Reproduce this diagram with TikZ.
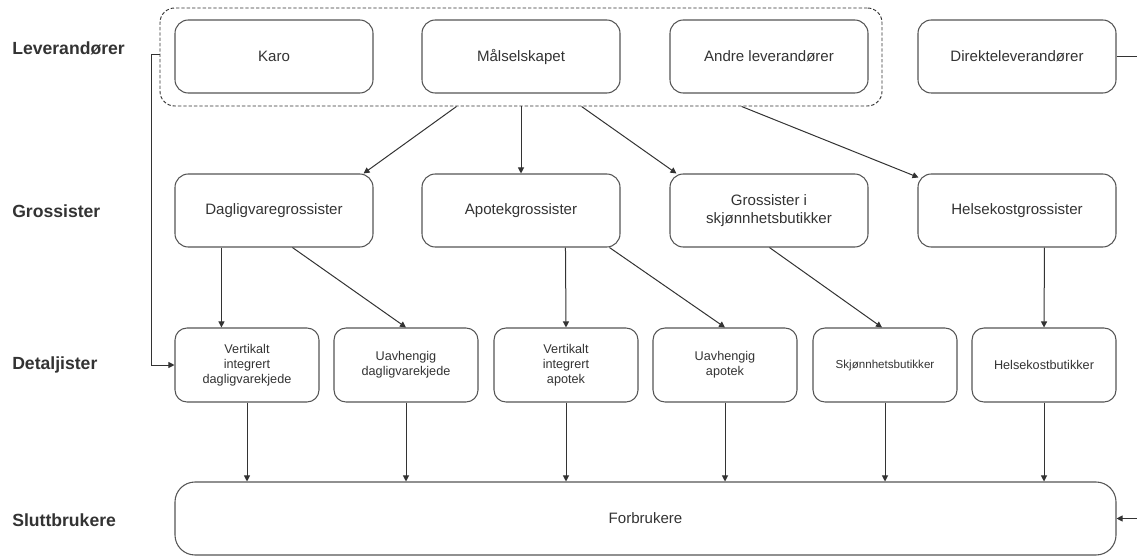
\documentclass[tikz,border=0pt]{standalone}
\usepackage{fontspec}
\setmainfont{Liberation Sans}
\usetikzlibrary{arrows.meta,calc}
\definecolor{txt}{HTML}{333333}
\definecolor{bord}{HTML}{555555}
\begin{document}
\begin{tikzpicture}[x=0.75pt,y=-0.75pt,
  box/.style={draw=bord, line width=0.8pt, rounded corners=10pt, align=center, text=txt, inner sep=0pt, font=\fontsize{11.3}{13.5}\selectfont},
  bigbox/.style={box, minimum width=148.5pt, minimum height=54.75pt},
  smallbox/.style={box, minimum width=108pt, minimum height=55.5pt, rounded corners=9pt, font=\fontsize{9.5}{11.25}\selectfont},
  lbl/.style={anchor=west, inner sep=0pt, font=\fontsize{13.2}{15}\selectfont\bfseries, text=txt},
  arr/.style={-{Triangle[width=4.5pt,length=4.5pt]}, draw=txt, line width=0.75pt}]
\useasboundingbox (0,0) rectangle (1137,556);

% row labels
\node[lbl] (l1) at (12,48) {Leverandører};
\node[lbl] (l2) at (12,211) {Grossister};
\node[lbl] (l3) at (12,365) {Detaljister};
\node[lbl] (l4) at (12,520) {Sluttbrukere};

% dashed group
\node[draw=txt, dash pattern=on 2.5pt off 1.5pt, line width=0.7pt, rounded corners=11pt, minimum width=541.5pt, minimum height=73.5pt, inner sep=0pt] (dash) at (521,57) {};

% suppliers
\node[bigbox] (karo) at (274,56.5) {Karo};
\node[bigbox] (mal) at (521,56.5) {Målselskapet};
\node[bigbox] (andre) at (769,56.5) {Andre leverandører};
\node[bigbox] (dir) at (1017,56.5) {Direkteleverandører};

% wholesalers
\node[bigbox] (dagl) at (274,210.5) {Dagligvaregrossister};
\node[bigbox] (apo) at (521,210.5) {Apotekgrossister};
\node[bigbox] (skj) at (769,210.5) {Grossister i\\skjønnhetsbutikker};
\node[bigbox] (hg) at (1017,210.5) {Helsekostgrossister};

% retailers
\node[smallbox] (vid) at (247,365) {Vertikalt\\integrert\\dagligvarekjede};
\node[smallbox] (ud) at (406,365) {Uavhengig\\dagligvarekjede};
\node[smallbox] (via) at (566,365) {Vertikalt\\integrert\\apotek};
\node[smallbox] (ua) at (725,365) {Uavhengig\\apotek};
\node[smallbox, font=\fontsize{8.7}{11}\selectfont] (sb) at (885,365) {Skjønnhetsbutikker};
\node[smallbox] (hb) at (1044,365) {Helsekostbutikker};

% consumers
\node[box, rounded corners=15pt, minimum width=705.75pt, minimum height=54.75pt] (forb) at (645.5,518.5) {Forbrukere};

% supplier group -> wholesalers
\coordinate (d1) at ($(dash.south west)+(297,0)$);
\coordinate (d3) at ($(dash.south west)+(422,0)$);
\coordinate (d4) at ($(dash.south west)+(582,0)$);
\draw[arr] (d1) -- ($(dagl.north east)+(-10,0)$);
\draw[arr] (dash.south) -- (apo.north);
\draw[arr] (d3) -- ($(skj.north west)+(7,0)$);
\draw[arr] (d4) -- ($(hg.north west)+(1,4)$);

% wholesalers -> retailers
\draw[arr] ($(dagl.south west)+(47,0)$) -- ($(vid.north west)+(47,0)$);
\draw[arr] ($(dagl.south west)+(118,0)$) -- (ud.north);
\draw[arr] ($(apo.south west)+(144,0)$) -- (via.north);
\draw[arr] ($(apo.south west)+(188,0)$) -- (ua.north);
\draw[arr] ($(skj.south west)+(100,0)$) -- ($(sb.north)+(-3,0)$);
\draw[arr] ($(hg.south west)+(127,0)$) -- (hb.north);

% retailers -> consumers
\foreach \n in {vid,ud,via,ua,sb,hb}
  \draw[arr] (\n.south) -- (\n.south |- forb.north);

% direct routes
\draw[arr] ($(dash.west)+(0,-2)$) -- ++(-8,0) |- (vid.west);
\draw[arr] (dir.east) -- ++(21,0) |- (forb.east);
\end{tikzpicture}
\end{document}
